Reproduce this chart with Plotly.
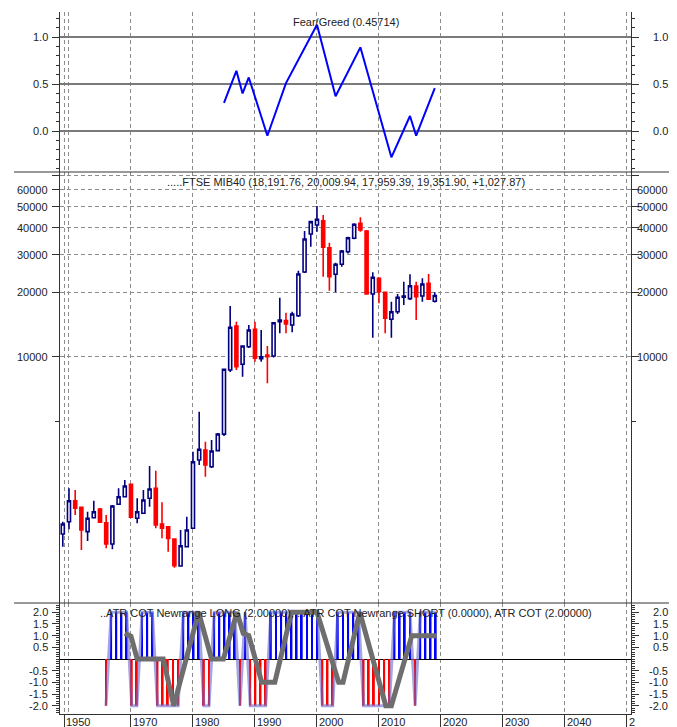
import math
import plotly.graph_objects as go

# ---------------- data ----------------
years = list(range(1959, 2020))
opens = [1497, 1708, 2140, 1993, 1535, 1783, 1957, 1690, 1345, 2059,
         2234, 2551, 1772, 1869, 2196, 2445, 1667, 1619, 1419, 1062,
         1306, 1591, 3311, 3687, 3082, 3660, 4370, 8700, 13950, 9250,
         11170, 13460, 9820, 10220, 10110, 14610, 14770, 14100, 15570, 24890,
         37420, 41220, 43170, 32300, 24290, 27040, 30950, 35740, 41980, 38650,
         19660, 23270, 20010, 14990, 16260, 18980, 18700, 21420, 19240, 22050,
         18191.76]
highs = [1708, 2445, 2400, 2000, 1901, 2140, 1978, 1835, 2043, 2445,
         2672, 2560, 2196, 2400, 3105, 2953, 2103, 1625, 1425, 1562,
         1802, 3621, 5562, 4031, 4105, 4420, 8790, 17290, 14610, 11300,
         14100, 14610, 13360, 11250, 14500, 18900, 16080, 16260, 25240, 38650,
         43100, 50520, 45880, 34090, 27520, 31520, 36350, 42000, 44770, 39100,
         24810, 23520, 20100, 18100, 19660, 22430, 24290, 22430, 23270, 24370,
         20009.94]
lows = [1306, 1574, 1835, 1261, 1389, 1778, 1684, 1284, 1270, 2043,
        2220, 1772, 1680, 1855, 2006, 1591, 1429, 1238, 1043, 1054,
        1297, 1579, 3139, 2768, 3037, 3640, 4284, 8520, 8700, 8095,
        11020, 9508, 9508, 7541, 9950, 12900, 12900, 13030, 15350, 24600,
        32660, 38370, 23670, 20370, 20010, 26350, 30340, 35350, 38370, 19500,
        12300, 17790, 12900, 12300, 15860, 17470, 18440, 14880, 18100, 18440,
        17959.39]
closes = [1667, 2140, 1972, 1562, 1772, 1901, 1697, 1345, 2022, 2234,
          2505, 1791, 1901, 2156, 2426, 1649, 1591, 1429, 1065, 1320,
          1562, 3252, 3715, 3139, 3648, 4377, 8763, 13750, 9010, 11250,
          13360, 9860, 10030, 10030, 14450, 14880, 14250, 15860, 24370, 35470,
          42720, 43820, 32450, 23670, 27040, 31180, 35960, 41530, 39070, 19660,
          23520, 20150, 15150, 16260, 18980, 19240, 21490, 19100, 21890, 18580,
          19351.90]

fg_years = [1985, 1987, 1988, 1989, 1992, 1995, 2000, 2003, 2007, 2012, 2015, 2016, 2019]
fg_values = [0.30, 0.64, 0.40, 0.57, -0.05, 0.51, 1.13, 0.37, 0.89, -0.28, 0.16, -0.05, 0.45714]

cot_start = 1965.97
cot_step = 0.831
cot_values = [-2, 2, 2, 2, 2, -2, -2, 2, 2, 2,
              -2, -2, -2, -2, -2, 2, 2, 2, 2, -2,
              -2, 2, 2, 2, 2, 2, -2, 2, -2, -2,
              -2, -2, 2, 2, 2, 2, 2, 2, 2, 2,
              2, 2, -2, -2, -2, 2, 2, 2, 2, 2,
              -2, -2, -2, -2, -2, -2, 2, 2, 2, 2,
              -2, 2, 2, 2, 2]
cot_dates = [cot_start + i * cot_step for i in range(len(cot_values))]

atr_years = [1969.0, 1970.0, 1971.0, 1975.2, 1976.9, 1980.9, 1983.0, 1984.9, 1987.1, 1988.1,
             1989.0, 1991.1, 1993.2, 1995.9, 2000.0, 2003.5, 2004.2, 2006.9, 2011.1, 2012.0,
             2015.3, 2019.3]
atr_values = [1.1, 0.97, 0, 0, -2, 2, 0, 0, 2, 1.1,
              1.0, -1, -1, 2, 2, -1, -1, 2, -2, -2,
              1, 1]

x_ticks = [1959.25, 1970, 1980, 1990, 2000, 2010, 2020, 2030, 2040, 2050]
x_tick_text = ["1950", "1970", "1980", "1990", "2000", "2010", "2020", "2030", "2040", "2"]

fg_ticks = [0, 0.5, 1]
fg_tick_text = ["0.0", "0.5", "1.0"]
px_ticks = [10000, 20000, 30000, 40000, 50000, 60000, 70000]
px_tick_text = ["10000", "20000", "30000", "40000", "50000", "60000", ""]
cot_ticks = [-2, -1.5, -1, -0.5, 0.5, 1, 1.5, 2]
cot_tick_text = ["-2.0", "-1.5", "-1.0", "-0.5", "0.5", "1.0", "1.5", "2.0"]

top_title = "Fear/Greed (0.45714)"
mid_title = ".....FTSE MIB40 (18,191.76, 20,009.94, 17,959.39, 19,351.90, +1,027.87)"
bot_title = "..ATR COT Newrange LONG (2.00000), ..ATR COT Newrange SHORT (0.0000), ATR COT (2.00000)"

# ---------------- figure ----------------
NAVY = "#000080"
AX = "#333333"
GRID = "#8c8c8c"
FONT = "Liberation Sans, Arial, sans-serif"
TXT = dict(size=11, color="#222222", family=FONT)

fig = go.Figure()

fig.add_trace(go.Scatter(x=fg_years, y=fg_values, mode="lines",
                         line=dict(color="#0000ff", width=2),
                         xaxis="x", yaxis="y", hoverinfo="skip"))

fig.add_trace(go.Candlestick(x=years, open=opens, high=highs, low=lows, close=closes,
                             xaxis="x2", yaxis="y2",
                             increasing=dict(line=dict(color=NAVY, width=1.6), fillcolor="white"),
                             decreasing=dict(line=dict(color="#ff0000", width=1.6), fillcolor="#ff0000"),
                             whiskerwidth=0))

cot_colors = ["#0000ff" if v > 0 else "#ff0000" for v in cot_values]
fig.add_trace(go.Bar(x=cot_dates, y=cot_values, width=0.3,
                     marker=dict(color=cot_colors, line=dict(width=0)),
                     xaxis="x3", yaxis="y3", hoverinfo="skip"))
fig.add_trace(go.Scatter(x=cot_dates, y=cot_values, mode="lines",
                         line=dict(color="rgba(105,105,205,0.6)", width=3),
                         xaxis="x3", yaxis="y3", hoverinfo="skip"))
fig.add_trace(go.Scatter(x=atr_years, y=atr_values, mode="lines",
                         line=dict(color="#6e6e6e", width=5),
                         xaxis="x3", yaxis="y3", hoverinfo="skip"))

# layout geometry: page pixels (the page body adds an 8px offset)
OFF = 8
W, H = 677 - OFF, 727 - OFF
PL, PR, PT, PB = 60, 631, 12, 714          # plot area in page pixels
L, R, T, B = PL - OFF, W - (PR - OFF), PT - OFF, H - (PB - OFF)
ph = PB - PT
pw = PR - PL
y_top_div = 172
y_bot_div = 603


def py(pix):
    return (PB - pix) / ph


def px(pix):
    return (pix - PL) / pw


d_top = [py(y_top_div), 1]
d_mid = [py(y_bot_div), py(y_top_div)]
d_bot = [0, py(y_bot_div)]

xrange_ = [1958.55, 2050.65]

xbase = dict(range=xrange_, tickmode="array", tickvals=x_ticks, ticktext=x_tick_text,
             showgrid=True, gridcolor=GRID, griddash="4px,3px", gridwidth=1,
             zeroline=False, showline=False, fixedrange=True, automargin=False,
             showticklabels=False,
             minor=dict(tickmode="array", tickvals=[1960], showgrid=True, gridcolor=GRID,
                        griddash="4px,3px", ticks=""))

ybase = dict(showline=True, linecolor=AX, linewidth=1, mirror="ticks", ticks="outside",
             ticklen=7, tickcolor=AX, tickwidth=1, zeroline=False, fixedrange=True,
             automargin=False, showticklabels=False)

fig.update_layout(
    width=W, height=H,
    margin=dict(l=L, r=R, t=T, b=B, pad=0, autoexpand=False),
    paper_bgcolor="white", plot_bgcolor="white",
    showlegend=False,
    font=TXT,
    boxgap=0.3,
    xaxis=dict(xbase, domain=[0, 1], anchor="y", ticks=""),
    xaxis2=dict(xbase, domain=[0, 1], anchor="y2", ticks="",
                rangeslider=dict(visible=False)),
    xaxis3=dict(xbase, domain=[0, 1], anchor="y3", ticks="outside",
                ticklen=12, tickcolor=AX, showline=True, linecolor=AX, linewidth=1),
    yaxis=dict(ybase, domain=d_top, anchor="x", range=[-0.436, 1.266],
               tickmode="array", tickvals=fg_ticks,
               showgrid=True, gridcolor="#7a7a7a", gridwidth=2,
               minor=dict(tick0=0, dtick=0.1, ticks="outside", ticklen=3,
                          tickcolor=AX, showgrid=False)),
    yaxis2=dict(ybase, domain=d_mid, anchor="x2", type="log", range=[2.8537, 4.862],
                tickmode="array", tickvals=px_ticks,
                showgrid=True, gridcolor=GRID, griddash="4px,3px", gridwidth=1,
                minor=dict(tickmode="array", tickvals=[5000], ticks="outside", ticklen=4,
                           tickcolor=AX, showgrid=False)),
    yaxis3=dict(ybase, domain=d_bot, anchor="x3", range=[-2.355, 2.398],
                tickmode="array", tickvals=cot_ticks,
                showgrid=False, zeroline=True, zerolinecolor="#000000", zerolinewidth=1,
                minor=dict(tick0=0, dtick=0.1, ticks="outside", ticklen=3,
                           tickcolor=AX, showgrid=False)),
)

shapes = []
for yy in (y_top_div, y_bot_div):
    shapes.append(dict(type="line", xref="paper", yref="paper",
                       x0=px(14), x1=px(680), y0=py(yy), y1=py(yy),
                       line=dict(color=AX, width=1), layer="above"))
shapes.append(dict(type="line", xref="paper", yref="y", x0=0, x1=1, y0=0.5, y1=0.5,
                   line=dict(color="#000000", width=1), layer="below"))
fig.update_layout(shapes=shapes)

ann = []
x_left = px(49)
x_right = px(669)


def ylabels(vals, texts, yref, conv=lambda v: v):
    for v, t in zip(vals, texts):
        if not t:
            continue
        for xx in (x_left, x_right):
            ann.append(dict(x=xx, xref="paper", y=conv(v), yref=yref, text=t, showarrow=False,
                            xanchor="right", yanchor="middle", font=TXT, borderpad=0))


ylabels(fg_ticks, fg_tick_text, "y")
ylabels(px_ticks, px_tick_text, "y2", conv=math.log10)
ylabels(cot_ticks, cot_tick_text, "y3")

for v, t in zip(x_ticks, x_tick_text):
    ann.append(dict(x=v, xref="x3", y=py(722), yref="paper", text=t, showarrow=False,
                    xanchor="left", yanchor="middle", xshift=1, font=TXT, borderpad=0))

ann.append(dict(x=0.5, xref="paper", y=py(22), yref="paper", text=top_title, showarrow=False,
                xanchor="center", yanchor="middle", font=TXT))
ann.append(dict(x=0.5, xref="paper", y=py(181.5), yref="paper", text=mid_title, showarrow=False,
                xanchor="center", yanchor="middle", font=TXT))
ann.append(dict(x=0.5, xref="paper", y=py(613), yref="paper", text=bot_title, showarrow=False,
                xanchor="center", yanchor="middle", font=TXT))
fig.update_layout(annotations=ann)

fig.write_html("out.html")
